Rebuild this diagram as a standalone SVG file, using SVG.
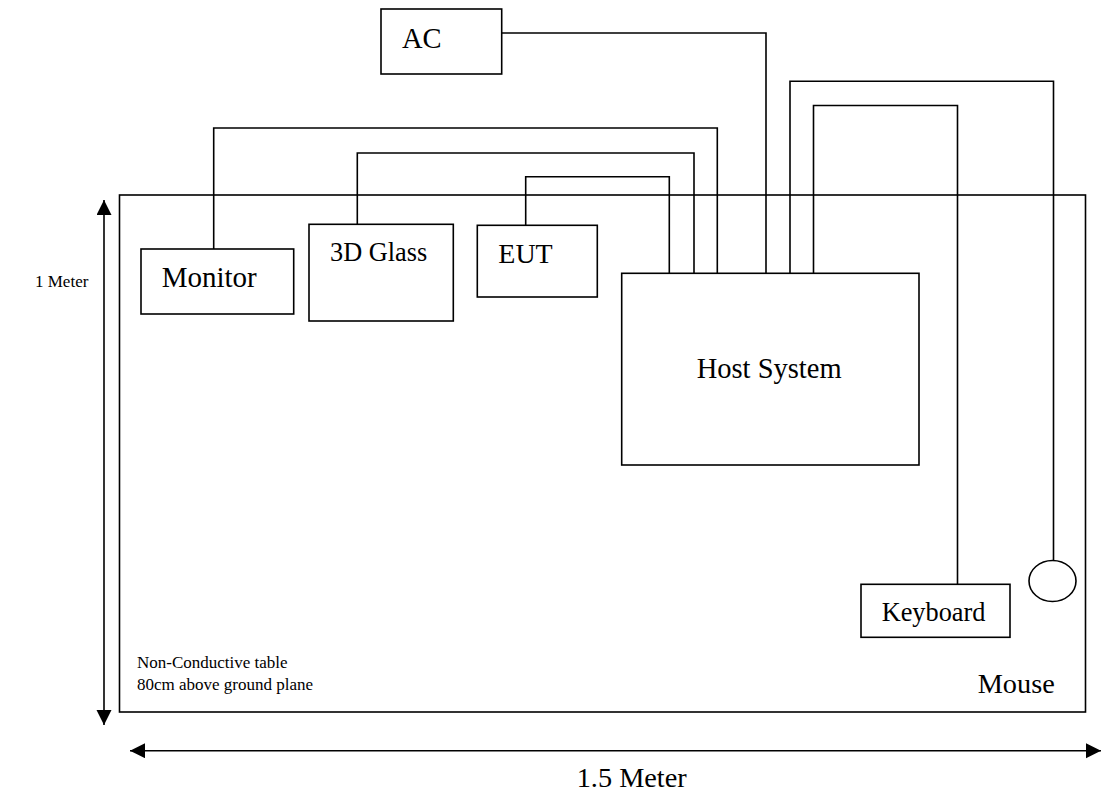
<svg xmlns="http://www.w3.org/2000/svg" width="1101" height="796" viewBox="0 0 1101 796">
<defs>
<style>
.box{fill:#fff;stroke:#000;stroke-width:1.6}
.wire{fill:none;stroke:#000;stroke-width:1.6}
.t{font-family:"Liberation Serif","Times New Roman",serif;fill:#000}
</style>
<marker id="ah" markerWidth="16" markerHeight="16" refX="15" refY="7.5" orient="auto" markerUnits="userSpaceOnUse">
<path d="M0,0 L15,7.5 L0,15 Z" fill="#000"/>
</marker>
</defs>
<rect width="1101" height="796" fill="#fff"/>
<g id="table">
<rect class="box" x="119.5" y="195" width="966" height="517"/>
<text class="t" x="137" y="668" font-size="17">Non-Conductive table</text>
<text class="t" x="137" y="690" font-size="17">80cm above ground plane</text>
</g>
<g id="connectors">
<polyline class="wire" points="501.7,33 766,33 766,273.3"/>
<polyline class="wire" points="213.7,249 213.7,128 717.3,128 717.3,273.3"/>
<polyline class="wire" points="357.3,224.3 357.3,153 694,153 694,273.3"/>
<polyline class="wire" points="525.7,225.3 525.7,176.7 669.3,176.7 669.3,273.3"/>
<polyline class="wire" points="790,273.3 790,81.3 1053.5,81.3 1053.5,560.5"/>
<polyline class="wire" points="813.5,273.3 813.5,105.5 957.5,105.5 957.5,584.3"/>
<line class="wire" x1="104" y1="500" x2="104" y2="200" marker-end="url(#ah)"/>
<line class="wire" x1="104" y1="500" x2="104" y2="725" marker-end="url(#ah)"/>
<line class="wire" x1="600" y1="750.7" x2="130" y2="750.7" marker-end="url(#ah)"/>
<line class="wire" x1="600" y1="750.7" x2="1101" y2="750.7" marker-end="url(#ah)"/>
</g>
<g id="ac">
<rect class="box" x="381" y="9" width="120.7" height="65"/>
<text class="t" x="402" y="47.7" font-size="28.5">AC</text>
</g>
<g id="monitor">
<rect class="box" x="141" y="249" width="152.7" height="65"/>
<text class="t" x="161.7" y="286.7" font-size="29">Monitor</text>
</g>
<g id="glass">
<rect class="box" x="309" y="224.3" width="144.3" height="96.7"/>
<text class="t" x="330" y="261" font-size="26.3">3D Glass</text>
</g>
<g id="eut">
<rect class="box" x="477.3" y="225.3" width="120" height="71.7"/>
<text class="t" x="498.3" y="262.7" font-size="28">EUT</text>
</g>
<g id="host">
<rect class="box" x="621.7" y="273.3" width="297.3" height="191.7"/>
<text class="t" x="696.7" y="378.3" font-size="28.5">Host System</text>
</g>
<g id="keyboard">
<rect class="box" x="861" y="584.3" width="149" height="53" stroke-width="2.5"/>
<text class="t" x="881.7" y="621" font-size="26.3">Keyboard</text>
</g>
<g id="mouse">
<ellipse class="box" cx="1052.5" cy="581" rx="23.5" ry="20.5"/>
<text class="t" x="977.7" y="693.3" font-size="28.3">Mouse</text>
</g>
<g id="dims">
<text class="t" x="35" y="287" font-size="17">1 Meter</text>
<text class="t" x="576.7" y="787" font-size="28.3">1.5 Meter</text>
</g>
</svg>
